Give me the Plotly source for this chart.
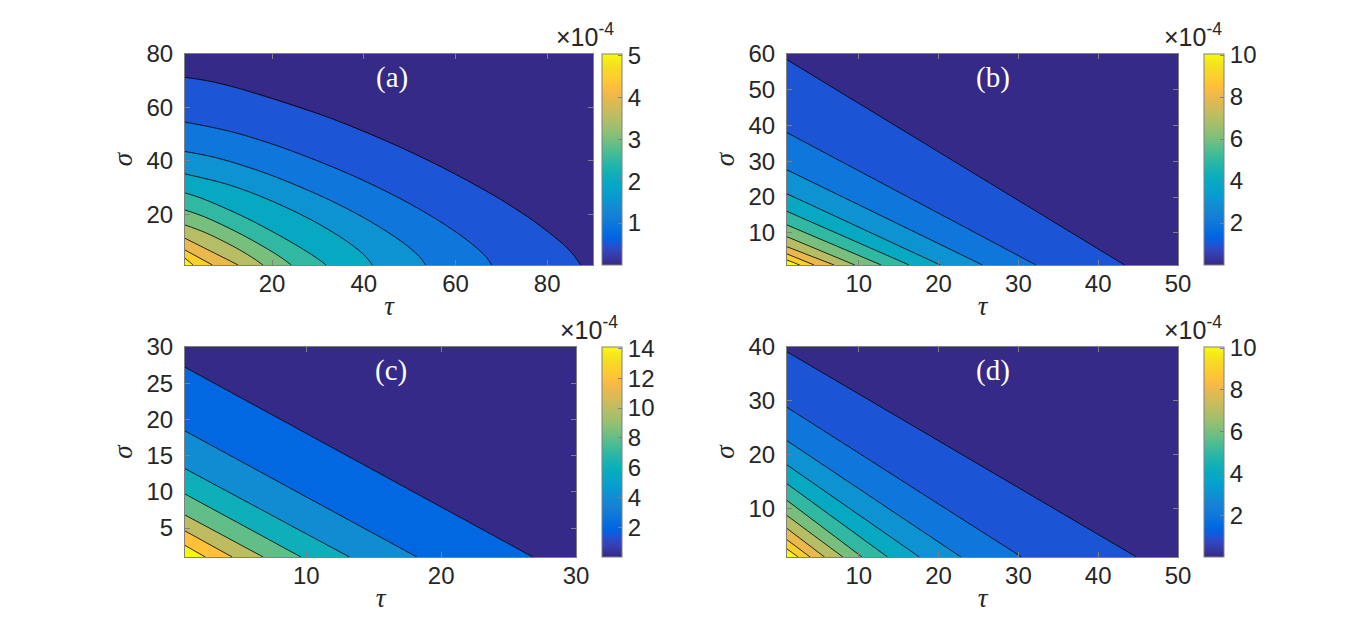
import plotly.graph_objects as go
from plotly.colors import sample_colorscale

W, H = 1366, 617
SANS = 'Liberation Sans, Arial, sans-serif'
SERIF = 'Liberation Serif, Times New Roman, serif'
INK = '#262626'
BOX = '#808080'

# MATLAB parula colormap (64 entries)
PARULA = [
    (0.2081, 0.1663, 0.5292), (0.2116, 0.1898, 0.5777), (0.2123, 0.2138, 0.6270), (0.2081, 0.2386, 0.6771),
    (0.1959, 0.2645, 0.7279), (0.1707, 0.2919, 0.7792), (0.1253, 0.3242, 0.8303), (0.0591, 0.3598, 0.8683),
    (0.0117, 0.3875, 0.8820), (0.0060, 0.4086, 0.8828), (0.0165, 0.4266, 0.8786), (0.0329, 0.4430, 0.8720),
    (0.0498, 0.4586, 0.8641), (0.0629, 0.4737, 0.8554), (0.0723, 0.4887, 0.8467), (0.0779, 0.5040, 0.8384),
    (0.0793, 0.5200, 0.8312), (0.0749, 0.5375, 0.8263), (0.0641, 0.5570, 0.8240), (0.0488, 0.5772, 0.8228),
    (0.0343, 0.5966, 0.8199), (0.0265, 0.6137, 0.8135), (0.0239, 0.6287, 0.8038), (0.0231, 0.6418, 0.7913),
    (0.0228, 0.6535, 0.7768), (0.0267, 0.6642, 0.7607), (0.0384, 0.6743, 0.7436), (0.0590, 0.6838, 0.7254),
    (0.0843, 0.6928, 0.7062), (0.1133, 0.7015, 0.6859), (0.1453, 0.7098, 0.6646), (0.1801, 0.7177, 0.6424),
    (0.2178, 0.7250, 0.6193), (0.2586, 0.7317, 0.5954), (0.3022, 0.7376, 0.5712), (0.3482, 0.7424, 0.5473),
    (0.3953, 0.7459, 0.5244), (0.4420, 0.7481, 0.5033), (0.4871, 0.7491, 0.4840), (0.5300, 0.7491, 0.4661),
    (0.5709, 0.7485, 0.4494), (0.6099, 0.7473, 0.4337), (0.6473, 0.7456, 0.4188), (0.6834, 0.7435, 0.4044),
    (0.7184, 0.7411, 0.3905), (0.7525, 0.7384, 0.3768), (0.7858, 0.7356, 0.3633), (0.8185, 0.7327, 0.3498),
    (0.8507, 0.7299, 0.3360), (0.8824, 0.7274, 0.3217), (0.9139, 0.7258, 0.3063), (0.9450, 0.7261, 0.2886),
    (0.9739, 0.7314, 0.2666), (0.9938, 0.7455, 0.2403), (0.9990, 0.7653, 0.2164), (0.9955, 0.7861, 0.1967),
    (0.9880, 0.8066, 0.1794), (0.9789, 0.8271, 0.1633), (0.9697, 0.8481, 0.1475), (0.9626, 0.8705, 0.1309),
    (0.9589, 0.8949, 0.1132), (0.9598, 0.9218, 0.0948), (0.9661, 0.9514, 0.0755), (0.9763, 0.9831, 0.0538),
]
parula = [[i / 63, 'rgb(%d,%d,%d)' % tuple(round(255 * c) for c in rgb)] for i, rgb in enumerate(PARULA)]

# ---- data: contour levels (units of 1e-4) and the contour lines ----
# (a) curved contours, points (tau, sigma) along each line from the tau axis to the sigma axis
levels_a = [0.5, 1.0, 1.5, 2.0, 2.5, 3.0, 3.5, 4.0, 4.5, 5.0]
line_tau_a = [
    [87.3, 86.1, 84.0, 80.5, 75.8, 69.4, 60.0, 48.1, 32.7, 13.0, 5.8, 1],
    [67.9, 66.7, 64.2, 60.4, 55.0, 47.8, 36.9, 22.2, 10.9, 1],
    [53.5, 52.2, 49.6, 45.5, 39.7, 31.7, 19.2, 8.2, 1],
    [41.9, 40.5, 37.8, 33.5, 27.3, 18.5, 10.6, 1],
    [31.8, 29.4, 25.7, 20.6, 13.9, 4.6, 1],
    [24.2, 21.8, 18.0, 12.7, 5.3, 1],
    [18.0, 15.5, 11.5, 5.6, 1],
    [12.6, 1],
    [7.0, 1],
    [2.8, 1],
]
line_sigma_a = [
    [1, 4, 8, 13, 19, 26, 35, 45, 56, 67, 70, 71.25],
    [1, 4, 8, 13, 19, 26, 35, 45, 51, 54.5],
    [1, 4, 8, 13, 19, 26, 35, 41, 43.5],
    [1, 4, 8, 13, 19, 26, 31, 35.1],
    [1, 4, 8, 13, 19, 26, 28],
    [1, 4, 8, 13, 19, 21.6],
    [1, 4, 8, 13, 16],
    [1, 11],
    [1, 6.6],
    [1, 3.5],
]

# (b)-(d) straight contours: tau where each line meets sigma = 1, sigma where it meets tau = 1
levels_b = [1, 2, 3, 4, 5, 6, 7, 8, 9, 10]
tau_cut_b = [43.3, 32.2, 25.5, 20.2, 16.3, 12.8, 9.5, 6.9, 4.4, 2.6]
sigma_cut_b = [58.4, 38.0, 27.6, 20.9, 16.0, 12.2, 8.9, 6.1, 4.1, 2.4]

levels_c = [2, 4, 6, 8, 10, 12, 14]
tau_cut_c = [26.8, 18.2, 13.2, 9.6, 6.8, 4.5, 2.5]
sigma_cut_c = [27.2, 18.4, 13.2, 9.7, 6.8, 4.6, 2.6]

levels_d = [1, 2, 3, 4, 5, 6, 7, 8, 9, 10]
tau_cut_d = [44.8, 30.4, 22.8, 17.6, 13.6, 10.4, 8.0, 5.7, 3.9, 2.4]
sigma_cut_d = [39.1, 28.8, 22.6, 18.1, 14.6, 11.5, 8.7, 6.3, 4.2, 2.5]

# axis limits, colour limits and ticks
tau_lim = {'a': [1, 90], 'b': [1, 50], 'c': [1, 30], 'd': [1, 50]}
sigma_lim = {'a': [1, 80], 'b': [1, 60], 'c': [1, 30], 'd': [1, 40]}
z_max = {'a': 5.03, 'b': 10.05, 'c': 14.1, 'd': 10.05}
cbar_ticks = {'a': [1, 2, 3, 4, 5], 'b': [2, 4, 6, 8, 10], 'c': [2, 4, 6, 8, 10, 12, 14], 'd': [2, 4, 6, 8, 10]}
x_ticks = {'a': [20, 40, 60, 80], 'b': [10, 20, 30, 40, 50], 'c': [10, 20, 30], 'd': [10, 20, 30, 40, 50]}
y_ticks = {'a': [20, 40, 60, 80], 'b': [10, 20, 30, 40, 50, 60], 'c': [5, 10, 15, 20, 25, 30], 'd': [10, 20, 30, 40]}


def straight(tau_cut, sigma_cut, lo_tau, lo_sigma):
    return [[t, lo_tau] for t in tau_cut], [[lo_sigma, s] for s in sigma_cut]


lines = {
    'a': (levels_a, line_tau_a, line_sigma_a, 'spline'),
    'b': (levels_b, *straight(tau_cut_b, sigma_cut_b, 1, 1), 'linear'),
    'c': (levels_c, *straight(tau_cut_c, sigma_cut_c, 1, 1), 'linear'),
    'd': (levels_d, *straight(tau_cut_d, sigma_cut_d, 1, 1), 'linear'),
}

# pixel boxes of the axes (left, right, top, bottom), colorbar left edge, exponent label right edge
boxes = {
    'a': (177, 585, 46, 257, 594, 608),
    'b': (779, 1170, 46, 257, 1196, 1216),
    'c': (177, 568, 339, 549, 594, 612),
    'd': (779, 1170, 339, 549, 1196, 1216),
}

fig = go.Figure()
layout = {}
annotations = []

for i, p in enumerate(['a', 'b', 'c', 'd']):
    n = '' if i == 0 else str(i + 1)
    xa, ya = 'x' + n, 'y' + n
    levels, l_tau, l_sigma, shape = lines[p]
    t0, s0 = tau_lim[p][0], sigma_lim[p][0]
    l, r, t, b, cbx, exr = boxes[p]
    y0, y1 = 1 - b / H, 1 - t / H

    # filled bands: region above each level, stacked from the lowest level up
    for lev, tt, ss in zip(levels, l_tau, l_sigma):
        fig.add_trace(go.Scatter(
            x=[t0] + tt + [t0], y=[s0] + ss + [s0],
            mode='none', fill='toself',
            fillcolor=sample_colorscale(parula, [lev / z_max[p]])[0],
            hoverinfo='skip', showlegend=False, xaxis=xa, yaxis=ya,
        ))
    # contour lines
    for lev, tt, ss in zip(levels, l_tau, l_sigma):
        fig.add_trace(go.Scatter(
            x=tt, y=ss, mode='lines',
            line=dict(color='black', width=0.8, shape=shape),
            name='%g×10⁻⁴' % lev, hoverinfo='name',
            showlegend=False, xaxis=xa, yaxis=ya,
        ))

    # continuous colorbar like MATLAB's
    fig.add_trace(go.Scatter(
        x=[None], y=[None], mode='markers',
        marker=dict(
            color=[0], cmin=0, cmax=z_max[p], colorscale=parula, showscale=True,
            colorbar=dict(
                x=cbx / W, xanchor='left', xpad=0,
                y=(y0 + y1) / 2, yanchor='middle', ypad=0,
                len=y1 - y0, lenmode='fraction',
                thickness=20, outlinecolor=BOX, outlinewidth=1,
                tickvals=cbar_ticks[p], ticks='inside', ticklen=4, tickcolor=BOX,
                tickfont=dict(family=SANS, size=24, color=INK),
            ),
        ),
        hoverinfo='skip', showlegend=False, xaxis=xa, yaxis=ya,
    ))

    axis_style = dict(
        showline=True, mirror='ticks', linecolor=BOX, linewidth=1,
        ticks='inside', ticklen=5, tickcolor=BOX,
        tickfont=dict(family=SANS, size=24, color=INK),
        showgrid=False, zeroline=False,
    )
    layout['xaxis' + n] = dict(
        axis_style, domain=[l / W, r / W], range=tau_lim[p], tickvals=x_ticks[p],
        anchor=ya, ticklabelstandoff=-3,
        title=dict(text='<i>τ</i>', font=dict(family=SERIF, size=27, color=INK), standoff=0),
    )
    layout['yaxis' + n] = dict(
        axis_style, domain=[y0, y1], range=sigma_lim[p], tickvals=y_ticks[p],
        anchor=xa, ticklabelstandoff=6,
        title=dict(text='<i>σ</i>', font=dict(family=SERIF, size=27, color=INK), standoff=6),
    )

    # panel label
    annotations.append(dict(
        text='(%s)' % p, xref='x%s domain' % n, yref='y%s domain' % n,
        x=0.507 if p == 'a' else 0.527, y=0.887, xanchor='center', yanchor='middle',
        showarrow=False, font=dict(family=SERIF, size=29, color='white'),
    ))
    # colorbar exponent
    annotations.append(dict(
        text='×10<sup>-4</sup>', xref='paper', yref='paper',
        x=exr / W, y=1 - (t - 1) / H, xanchor='right', yanchor='bottom',
        showarrow=False, font=dict(family=SANS, size=25, color=INK),
    ))

fig.update_layout(
    width=W, height=H,
    margin=dict(l=0, r=0, t=0, b=0, autoexpand=False),
    paper_bgcolor='white', plot_bgcolor='rgb(53,42,135)',
    showlegend=False,
    annotations=annotations,
    **layout,
)

fig.write_html("out.html")
